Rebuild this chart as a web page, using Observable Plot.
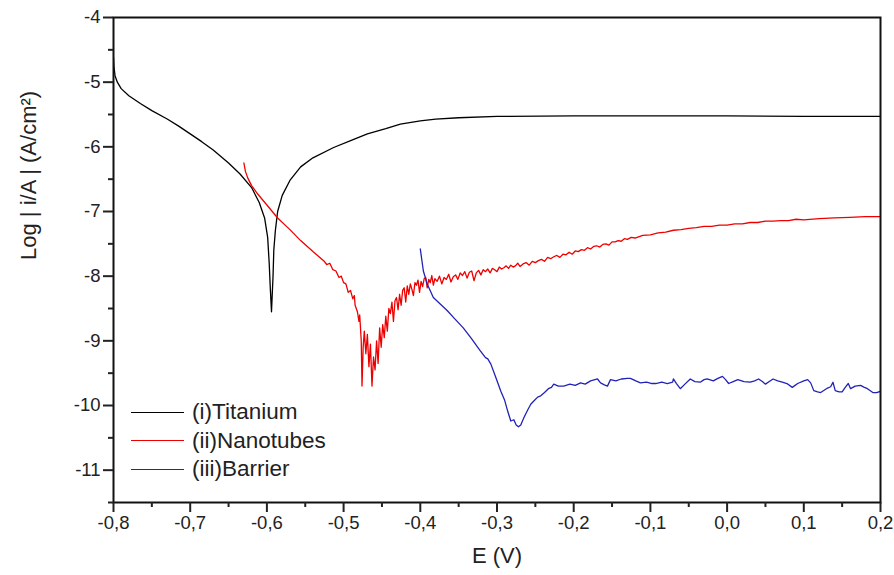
<!DOCTYPE html>
<html><head><meta charset="utf-8">
<script src="https://cdn.jsdelivr.net/npm/d3@7"></script>
<script src="https://cdn.jsdelivr.net/npm/@observablehq/plot@0.6"></script>
<style>
body{margin:0;background:#fff;font-family:"Liberation Sans",Arial,sans-serif;}
#wrap{position:relative;width:894px;height:575px;}
#legend{position:absolute;left:131px;top:398px;font-size:22.5px;color:#222;line-height:28.5px;}
#legend .row{display:flex;align-items:center;height:28.5px;}
#legend .sw{width:53px;height:0;border-top:1.3px solid;margin-right:8px;}
</style></head><body><div id="wrap"></div>
<script>
// E (V), log|i| pairs
const titanium = [
[-0.800,-4.62],[-0.7995,-4.75],[-0.798,-4.90],[-0.795,-5.00],[-0.790,-5.10],[-0.780,-5.21],[-0.765,-5.33],
[-0.750,-5.44],[-0.730,-5.57],[-0.715,-5.68],[-0.700,-5.80],[-0.685,-5.92],[-0.670,-6.05],[-0.650,-6.25],
[-0.635,-6.42],[-0.620,-6.63],[-0.610,-6.86],[-0.603,-7.10],[-0.599,-7.40],[-0.597,-7.80],[-0.5955,-8.20],
[-0.594,-8.55],[-0.592,-8.00],[-0.591,-7.60],[-0.589,-7.30],[-0.586,-7.00],[-0.580,-6.75],[-0.570,-6.52],
[-0.556,-6.31],[-0.540,-6.17],[-0.513,-6.01],[-0.490,-5.90],[-0.469,-5.80],[-0.445,-5.72],[-0.426,-5.65],
[-0.400,-5.60],[-0.380,-5.57],[-0.350,-5.55],[-0.300,-5.53],[-0.200,-5.52],[-0.100,-5.52],[0.000,-5.52],
[0.100,-5.53],[0.200,-5.53]
];
const nanotubes = [
[-0.630,-6.25],[-0.628,-6.38],[-0.625,-6.48],[-0.620,-6.60],[-0.612,-6.73],[-0.600,-6.90],[-0.586,-7.10],
[-0.570,-7.28],[-0.556,-7.45],[-0.540,-7.62],[-0.526,-7.76],[-0.522,-7.82],[-0.518,-7.80],[-0.514,-7.90],
[-0.510,-7.92],[-0.506,-8.02],[-0.503,-8.00],[-0.500,-8.10],[-0.497,-8.12],[-0.494,-8.25],[-0.491,-8.22],
[-0.488,-8.35],[-0.486,-8.30],[-0.485,-8.45],[-0.482,-8.55],[-0.480,-8.70],[-0.479,-8.60],[-0.477,-9.00],
[-0.476,-9.70],[-0.4745,-9.10],[-0.473,-8.85],[-0.471,-9.20],[-0.469,-8.90],[-0.467,-9.40],[-0.465,-9.05],
[-0.463,-9.70],[-0.461,-9.25],[-0.459,-9.45],[-0.457,-9.00],[-0.455,-9.35],[-0.453,-8.80],[-0.451,-9.10],
[-0.449,-8.75],[-0.447,-8.95],[-0.445,-8.62],[-0.443,-8.85],[-0.441,-8.50],[-0.439,-8.58],[-0.437,-8.40],
[-0.435,-8.70],[-0.433,-8.38],[-0.431,-8.33],[-0.429,-8.52],[-0.427,-8.28],[-0.425,-8.45],[-0.423,-8.22],
[-0.421,-8.18],[-0.419,-8.40],[-0.417,-8.15],[-0.415,-8.28],[-0.413,-8.12],[-0.411,-8.20],[-0.409,-8.30],
[-0.407,-8.10],[-0.405,-8.14],[-0.403,-8.06],[-0.401,-8.25],[-0.399,-8.08],[-0.397,-8.16],[-0.395,-8.04],
[-0.393,-8.02],[-0.391,-8.18],[-0.389,-8.05],[-0.387,-8.10],[-0.385,-7.99],[-0.383,-8.14],[-0.381,-8.04],
[-0.378,-8.08],[-0.375,-8.00],[-0.372,-8.12],[-0.369,-8.02],[-0.366,-8.05],[-0.363,-7.97],[-0.360,-8.09],
[-0.357,-8.01],[-0.354,-7.98],[-0.351,-8.05],[-0.348,-7.95],[-0.345,-7.99],[-0.342,-7.93],[-0.339,-8.03],
[-0.336,-7.94],[-0.333,-7.92],[-0.330,-8.07],[-0.327,-7.95],[-0.324,-7.91],[-0.321,-7.98],[-0.318,-7.90],
[-0.315,-7.93],[-0.312,-7.89],[-0.309,-7.95],[-0.306,-7.88],[-0.303,-7.90],[-0.300,-7.93],[-0.297,-7.86],
[-0.294,-7.89],[-0.291,-7.87],[-0.288,-7.84],[-0.285,-7.88],[-0.282,-7.83],[-0.279,-7.86],[-0.276,-7.84],
[-0.273,-7.80],[-0.270,-7.85],[-0.266,-7.81],[-0.262,-7.79],[-0.258,-7.83],[-0.254,-7.77],[-0.250,-7.79],
[-0.246,-7.76],[-0.242,-7.74],[-0.238,-7.77],[-0.234,-7.71],[-0.230,-7.73],[-0.226,-7.70],[-0.222,-7.68],
[-0.218,-7.71],[-0.214,-7.66],[-0.210,-7.67],[-0.206,-7.63],[-0.202,-7.66],[-0.198,-7.61],[-0.194,-7.62],
[-0.190,-7.59],[-0.186,-7.60],[-0.182,-7.56],[-0.178,-7.58],[-0.174,-7.54],[-0.170,-7.53],[-0.166,-7.55],
[-0.162,-7.51],[-0.158,-7.50],[-0.154,-7.52],[-0.150,-7.47],[-0.146,-7.47],[-0.142,-7.45],[-0.138,-7.46],
[-0.134,-7.42],[-0.130,-7.43],[-0.125,-7.40],[-0.120,-7.41],[-0.110,-7.37],[-0.100,-7.36],[-0.090,-7.33],
[-0.080,-7.32],[-0.070,-7.29],[-0.060,-7.28],[-0.050,-7.26],[-0.040,-7.25],[-0.030,-7.23],[-0.020,-7.23],
[-0.010,-7.21],[0.000,-7.21],[0.010,-7.19],[0.020,-7.19],[0.030,-7.17],[0.040,-7.17],[0.050,-7.15],
[0.060,-7.15],[0.070,-7.14],[0.080,-7.14],[0.090,-7.12],[0.100,-7.13],[0.120,-7.11],[0.140,-7.10],
[0.160,-7.09],[0.180,-7.08],[0.200,-7.08]
];
const barrier = [
[-0.400,-7.58],[-0.398,-7.75],[-0.396,-7.92],[-0.391,-8.12],[-0.383,-8.33],[-0.374,-8.43],[-0.365,-8.53],
[-0.355,-8.66],[-0.344,-8.80],[-0.333,-8.97],[-0.322,-9.15],[-0.315,-9.26],[-0.312,-9.28],[-0.308,-9.36],
[-0.302,-9.55],[-0.295,-9.78],[-0.290,-9.92],[-0.286,-10.09],[-0.282,-10.24],[-0.278,-10.22],[-0.275,-10.30],
[-0.272,-10.33],[-0.269,-10.30],[-0.265,-10.19],[-0.260,-10.07],[-0.256,-9.98],[-0.252,-9.93],[-0.247,-9.87],
[-0.243,-9.85],[-0.238,-9.80],[-0.233,-9.74],[-0.229,-9.72],[-0.226,-9.67],[-0.220,-9.70],[-0.213,-9.70],
[-0.205,-9.67],[-0.198,-9.69],[-0.191,-9.65],[-0.185,-9.67],[-0.178,-9.62],[-0.169,-9.59],[-0.165,-9.65],
[-0.160,-9.68],[-0.156,-9.70],[-0.152,-9.60],[-0.145,-9.62],[-0.138,-9.59],[-0.130,-9.58],[-0.126,-9.58],
[-0.119,-9.62],[-0.113,-9.65],[-0.105,-9.64],[-0.098,-9.66],[-0.093,-9.66],[-0.085,-9.64],[-0.078,-9.66],
[-0.071,-9.64],[-0.070,-9.59],[-0.066,-9.66],[-0.061,-9.74],[-0.055,-9.67],[-0.048,-9.59],[-0.042,-9.63],
[-0.035,-9.64],[-0.030,-9.60],[-0.026,-9.59],[-0.018,-9.62],[-0.012,-9.58],[-0.006,-9.55],[-0.002,-9.60],
[0.002,-9.66],[0.008,-9.63],[0.014,-9.60],[0.022,-9.63],[0.030,-9.64],[0.036,-9.62],[0.041,-9.59],
[0.046,-9.63],[0.050,-9.67],[0.055,-9.63],[0.060,-9.59],[0.066,-9.62],[0.072,-9.64],[0.078,-9.66],
[0.085,-9.72],[0.092,-9.66],[0.100,-9.62],[0.105,-9.60],[0.109,-9.65],[0.113,-9.77],[0.118,-9.79],
[0.122,-9.80],[0.127,-9.76],[0.131,-9.73],[0.135,-9.71],[0.138,-9.64],[0.141,-9.77],[0.146,-9.79],
[0.150,-9.79],[0.154,-9.72],[0.158,-9.66],[0.161,-9.74],[0.167,-9.70],[0.174,-9.69],[0.179,-9.72],
[0.183,-9.74],[0.190,-9.80],[0.195,-9.80],[0.200,-9.78]
];
const seriesNames = ["(i)Titanium", "(ii)Nanotubes", "(iii)Barrier"];
const seriesColors = ["#000000", "#ee0000", "#2222b8"];
const xMajor = [-0.8,-0.7,-0.6,-0.5,-0.4,-0.3,-0.2,-0.1,0.0,0.1,0.2];
const xMinor = [-0.75,-0.65,-0.55,-0.45,-0.35,-0.25,-0.15,-0.05,0.05,0.15];
const yMajor = [-4,-5,-6,-7,-8,-9,-10,-11];
const yMinor = [-4.5,-5.5,-6.5,-7.5,-8.5,-9.5,-10.5,-11.5];
const xLabel = "E (V)";
const yLabel = "Log | i/A | (A/cm²)";

const fmtX = d => d.toFixed(1).replace(".", ",");
const fmtY = d => String(d);
const series = [titanium, nanotubes, barrier];

const chart = Plot.plot({
  width: 894, height: 575,
  marginLeft: 113, marginRight: 14, marginTop: 17, marginBottom: 73,
  x: {domain: [-0.8, 0.2]},
  y: {domain: [-11.5, -4]},
  style: {fontFamily: "'Liberation Sans', Arial, sans-serif", background: "#fff", color: "#222"},
  marks: [
    ...series.map((s, i) => Plot.line(s, {stroke: seriesColors[i], strokeWidth: 1.3, clip: true})),
    Plot.frame({stroke: "#111", strokeWidth: 2}),
    Plot.axisX(xMajor, {tickSize: 10, tickPadding: 3, tickFormat: fmtX, fontSize: 18.5, strokeWidth: 2, label: null}),
    Plot.axisX(xMinor, {tickSize: 5, tickFormat: () => "", strokeWidth: 2, label: null}),
    Plot.axisY(yMajor, {tickSize: 10, tickPadding: 3, tickFormat: fmtY, fontSize: 18.5, strokeWidth: 2, label: null}),
    Plot.axisY(yMinor, {tickSize: 5, tickFormat: () => "", strokeWidth: 2, label: null}),
    Plot.text([xLabel], {frameAnchor: "bottom", dy: 60, fontSize: 22, fill: "#222"}),
    Plot.text([yLabel], {frameAnchor: "left", rotate: -90, dx: -85, fontSize: 22, fill: "#222"})
  ]
});
const wrap = document.getElementById("wrap");
wrap.appendChild(chart);
const legend = document.createElement("div");
legend.id = "legend";
seriesNames.forEach((n, i) => {
  const row = document.createElement("div");
  row.className = "row";
  const sw = document.createElement("span");
  sw.className = "sw";
  sw.style.borderColor = seriesColors[i];
  const t = document.createElement("span");
  t.textContent = n;
  row.appendChild(sw); row.appendChild(t);
  legend.appendChild(row);
});
wrap.appendChild(legend);
</script></body></html>
